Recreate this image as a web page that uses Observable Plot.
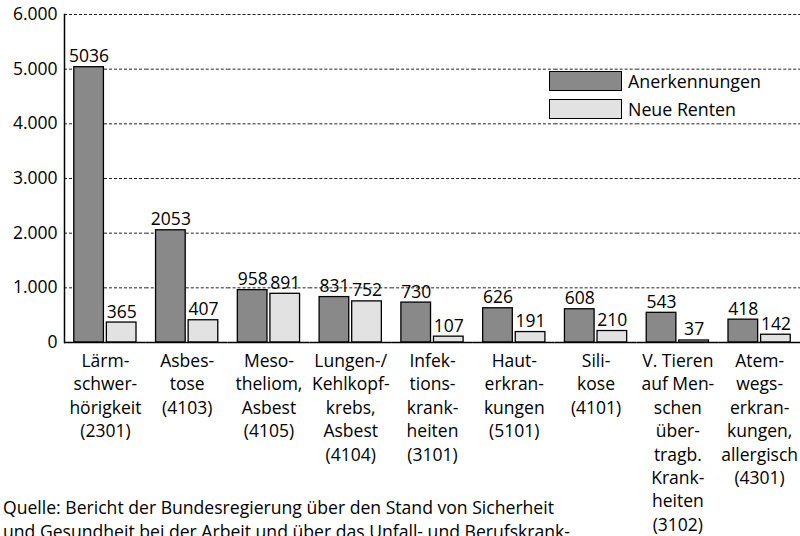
<!DOCTYPE html>
<html><head><meta charset="utf-8">
<script src="https://cdn.jsdelivr.net/npm/d3@7"></script>
<script src="https://cdn.jsdelivr.net/npm/@observablehq/plot@0.6"></script>
<style>
body{margin:0;background:#fff;overflow:hidden}
#wrap{position:relative;width:800px;height:536px;font-family:"Open Sans",sans-serif;color:#000;overflow:hidden}
#legend{position:absolute;left:549px;top:71px;font-size:17.8px}
.row{display:flex;align-items:center;height:20px;margin-bottom:8px}
.sw{width:71px;height:18px;border:1.3px solid #000;margin-right:6px}
#caption{position:absolute;left:3px;top:495px;font-size:17.6px;line-height:24px;white-space:nowrap}
</style></head><body><div id="wrap"></div>
<script>
const categories = [
  "Lärm-\nschwer-\nhörigkeit\n(2301)",
  "Asbes-\ntose\n(4103)",
  "Meso-\ntheliom,\nAsbest\n(4105)",
  "Lungen-/\nKehlkopf-\nkrebs,\nAsbest\n(4104)",
  "Infek-\ntions-\nkrank-\nheiten\n(3101)",
  "Haut-\nerkran-\nkungen\n(5101)",
  "Sili-\nkose\n(4101)",
  "V. Tieren\nauf Men-\nschen\nüber-\ntragb.\nKrank-\nheiten\n(3102)",
  "Atem-\nwegs-\nerkran-\nkungen,\nallergisch\n(4301)"
];
const anerkennungen = [5036, 2053, 958, 831, 730, 626, 608, 543, 418];
const neueRenten = [365, 407, 891, 752, 107, 191, 210, 37, 142];
const seriesNames = ["Anerkennungen", "Neue Renten"];
const seriesColors = ["#898989", "#e2e2e2"];
const yTicks = [0, 1000, 2000, 3000, 4000, 5000, 6000];
const captionLines = [
  "Quelle: Bericht der Bundesregierung über den Stand von Sicherheit",
  "und Gesundheit bei der Arbeit und über das Unfall- und Berufskrank-"
];

const data = categories.flatMap((c, i) => [
  {cat: c, series: seriesNames[0], value: anerkennungen[i]},
  {cat: c, series: seriesNames[1], value: neueRenten[i]}
]);

const fmt = d => d3.format(",")(d).replace(/,/g, ".");

const chart = Plot.plot({
  width: 800, height: 536,
  marginLeft: 64, marginRight: 0, marginTop: 14, marginBottom: 194,
  style: {fontFamily: "'Open Sans', sans-serif", fontSize: "17.5px", color: "#000", background: "transparent"},
  fx: {domain: categories, padding: 0, round: false, label: null},
  x: {domain: seriesNames, paddingInner: 0.09, paddingOuter: 0.3, round: false, axis: null, label: null},
  y: {domain: [0, 6000], label: null},
  color: {domain: seriesNames, range: seriesColors},
  marks: [
    Plot.ruleY(yTicks.filter(d => d > 0), {stroke: "#222", strokeDasharray: "3,2", strokeWidth: 1}),
    Plot.barY(data, {fx: "cat", x: "series", y: "value", fill: "series", stroke: "#000", strokeWidth: 1.3}),
    Plot.text(data, {fx: "cat", x: "series", y: "value", text: d => String(d.value), lineAnchor: "bottom", dy: -5, fontSize: 17.5}),
    Plot.ruleY([0], {stroke: "#000", strokeWidth: 1.5}),
    Plot.frame({anchor: "left", facetAnchor: "left", stroke: "#000", strokeWidth: 1.5}),
    Plot.axisY({ticks: yTicks, tickFormat: fmt, tickSize: 0, tickPadding: 7, fontSize: 17.5, label: null}),
    Plot.axisFx({anchor: "bottom", tickSize: 0, tickPadding: 8, fontSize: 17.5, lineHeight: 1.335, label: null})
  ]
});

const wrap = document.getElementById("wrap");
wrap.appendChild(chart);

const legend = document.createElement("div");
legend.id = "legend";
seriesNames.forEach((s, i) => {
  const row = document.createElement("div");
  row.className = "row";
  const sw = document.createElement("div");
  sw.className = "sw";
  sw.style.background = seriesColors[i];
  const t = document.createElement("span");
  t.textContent = s;
  row.appendChild(sw); row.appendChild(t);
  legend.appendChild(row);
});
wrap.appendChild(legend);

const cap = document.createElement("div");
cap.id = "caption";
cap.innerHTML = captionLines.map(l => l.replace(/&/g, "&amp;").replace(/</g, "&lt;")).join("<br>");
wrap.appendChild(cap);
</script>
</body></html>
